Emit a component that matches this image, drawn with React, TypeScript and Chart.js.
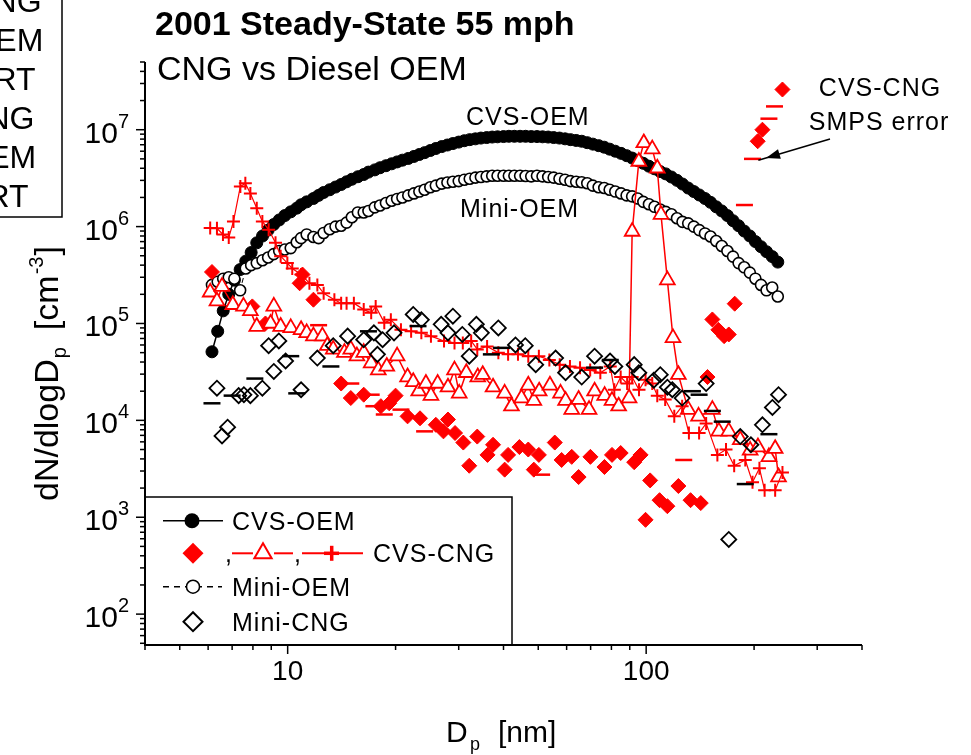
import React, { useEffect, useRef } from 'react';
import { Chart, registerables } from 'chart.js';

Chart.register(...registerables);

const FONT = '"Liberation Sans", Arial, Helvetica, sans-serif';
const fnt = (size: number, bold = false) => `${bold ? 'bold ' : ''}${size}px ${FONT}`;

// ---------- axis settings / tick labels ----------
const X_MIN = 4;
const X_MAX = 400;
const Y_MIN = 48;
const Y_MAX = 5e7;
const xTickLabels = ['10', '100'];
const yTickBase = '10';
const yTickExponents = ['2', '3', '4', '5', '6', '7'];

// ---------- SMPS channel mid-point diameters [nm] (shared by OEM series) ----------
const smpsDiameters = [
  6.15, 6.38, 6.61, 6.85, 7.10, 7.37, 7.64, 7.91, 8.20, 8.51,
  8.82, 9.14, 9.47, 9.82, 10.2, 10.6, 10.9, 11.3, 11.8, 12.2,
  12.6, 13.1, 13.6, 14.1, 14.6, 15.1, 15.7, 16.3, 16.8, 17.5,
  18.1, 18.8, 19.5, 20.2, 20.9, 21.7, 22.5, 23.3, 24.1, 25.0,
  25.9, 26.9, 27.9, 28.9, 30.0, 31.1, 32.2, 33.4, 34.6, 35.9,
  37.2, 38.5, 40.0, 41.4, 42.9, 44.5, 46.1, 47.8, 49.6, 51.4,
  53.3, 55.2, 57.3, 59.4, 61.5, 63.8, 66.1, 68.5, 71.0, 73.7,
  76.4, 79.1, 82.0, 85.1, 88.2, 91.4, 94.7, 98.2, 101.8, 105.5,
  109.4, 113.4, 117.6, 121.9, 126.3, 131.0, 135.8, 140.7, 145.9, 151.2,
  156.8, 162.5, 168.5, 174.7, 181.1, 187.7, 194.6, 201.7, 209.1, 216.7,
  224.7, 232.9,
];

// CVS-OEM dN/dlogDp [cm^-3]
const cvsOem = [
  5.1e4, 8.3e4, 1.35e5, 2.0e5, 2.8e5, 3.6e5, 4.4e5, 5.4e5, 6.8e5, 8.0e5,
  9.2e5, 1.05e6, 1.17e6, 1.3e6, 1.42e6, 1.55e6, 1.68e6, 1.8e6, 1.95e6, 2.1e6,
  2.25e6, 2.4e6, 2.56e6, 2.72e6, 2.9e6, 3.08e6, 3.27e6, 3.45e6, 3.65e6, 3.85e6,
  4.05e6, 4.25e6, 4.45e6, 4.65e6, 4.85e6, 5.05e6, 5.3e6, 5.55e6, 5.8e6, 6.1e6,
  6.4e6, 6.7e6, 6.95e6, 7.2e6, 7.45e6, 7.7e6, 7.9e6, 8.05e6, 8.2e6, 8.3e6,
  8.4e6, 8.45e6, 8.5e6, 8.55e6, 8.55e6, 8.55e6, 8.55e6, 8.5e6, 8.5e6, 8.45e6,
  8.4e6, 8.3e6, 8.2e6, 8.05e6, 7.9e6, 7.75e6, 7.6e6, 7.35e6, 7.1e6, 6.85e6,
  6.6e6, 6.3e6, 6.0e6, 5.7e6, 5.4e6, 5.1e6, 4.8e6, 4.5e6, 4.2e6, 3.95e6,
  3.7e6, 3.5e6, 3.25e6, 3.0e6, 2.75e6, 2.5e6, 2.3e6, 2.12e6, 1.95e6, 1.78e6,
  1.6e6, 1.45e6, 1.3e6, 1.15e6, 1.02e6, 9.0e5, 8.0e5, 7.0e5, 6.2e5, 5.5e5,
  4.9e5, 4.3e5,
];

// Mini-OEM dN/dlogDp [cm^-3]
const miniOem = [
  2.5e5, 2.7e5, 2.9e5, 3.0e5, 2.9e5, 2.2e5, 3.7e5, 4.0e5, 4.2e5, 4.5e5,
  4.8e5, 5.2e5, 5.6e5, 5.8e5, 6.0e5, 6.9e5, 7.6e5, 8.3e5, 7.8e5, 7.6e5,
  8.6e5, 9.4e5, 1.0e6, 1.02e6, 1.1e6, 1.25e6, 1.4e6, 1.4e6, 1.45e6, 1.58e6,
  1.65e6, 1.75e6, 1.85e6, 1.93e6, 2.0e6, 2.1e6, 2.2e6, 2.3e6, 2.4e6, 2.55e6,
  2.65e6, 2.78e6, 2.85e6, 2.9e6, 2.95e6, 3.05e6, 3.12e6, 3.2e6, 3.25e6, 3.3e6,
  3.35e6, 3.35e6, 3.35e6, 3.35e6, 3.35e6, 3.35e6, 3.33e6, 3.3e6, 3.35e6, 3.3e6,
  3.25e6, 3.2e6, 3.12e6, 3.05e6, 2.95e6, 2.9e6, 2.87e6, 2.8e6, 2.65e6, 2.55e6,
  2.5e6, 2.4e6, 2.3e6, 2.2e6, 2.1e6, 2.05e6, 1.95e6, 1.8e6, 1.7e6, 1.6e6,
  1.5e6, 1.42e6, 1.34e6, 1.22e6, 1.12e6, 1.08e6, 1.0e6, 9.2e5, 8.5e5, 7.9e5,
  7.1e5, 6.3e5, 5.6e5, 4.9e5, 4.2e5, 3.8e5, 3.35e5, 2.9e5, 2.5e5, 2.2e5,
  2.35e5, 1.9e5,
];

// CVS-CNG run 1 (filled diamonds)
const cngDiamondDp = [
  6.15, 7.97, 8.67, 10.8, 11.0, 11.8, 14.1, 15.0, 16.3, 18.2,
  19.2, 20.0, 21.6, 23.4, 25.9, 27.2, 28.0, 29.3, 30.9, 32.1,
  33.8, 36.1, 37.4, 40.3, 41.2, 44.3, 46.9, 48.6, 50.2, 55.6,
  58.1, 62.0, 64.8, 69.9, 76.5, 80.3, 84.9, 92.6, 96.5, 99.6,
  102.6, 109, 114.6, 123, 133, 142, 148.3, 153, 159, 165,
  170, 176.6, 204.7, 211, 240,
];
const cngDiamondN = [
  3.4e5, 1.5e5, 1.0e5, 2.6e5, 3.2e5, 1.76e5, 2.4e4, 1.7e4, 1.84e4, 1.4e4,
  1.5e4, 1.8e4, 1.1e4, 1.05e4, 9.0e3, 7.7e3, 1.02e4, 7.4e3, 5.9e3, 3.4e3,
  6.8e3, 4.4e3, 5.6e3, 3.1e3, 4.4e3, 5.3e3, 5.0e3, 3.1e3, 4.4e3, 5.9e3,
  3.9e3, 4.2e3, 2.6e3, 4.2e3, 3.3e3, 4.4e3, 4.6e3, 3.7e3, 4.4e3, 9.4e2,
  2.4e3, 1.5e3, 1.3e3, 2.1e3, 1.5e3, 1.4e3, 2.8e4, 1.1e5, 8.6e4, 7.4e4,
  7.7e4, 1.6e5, 7.6e6, 1.0e7, 2.6e7,
];

// CVS-CNG run 2 (open triangles + line)
const cngTriangleDp = [
  6.08, 6.35, 6.56, 7.03, 7.53, 7.87, 8.2, 8.96, 9.15, 9.56,
  10.2, 10.9, 11.3, 11.8, 12.5, 12.9, 13.4, 14.4, 15.0, 15.6,
  16.3, 17.1, 17.9, 18.9, 20.2, 21.6, 22.4, 23.2, 24.3, 25.1,
  26.2, 28.0, 29.2, 30.1, 31.5, 33.9, 35.0, 37.4, 40.3, 42.1,
  44.9, 46.9, 48.6, 50.3, 53.9, 57.7, 59.6, 62.0, 64.8, 69.3,
  71.8, 76.6, 80.3, 83.8, 89.6, 91.4, 95.4, 98.5, 104, 107.4,
  110, 114.6, 118.8, 123, 131, 140, 153, 159.5, 170, 183,
  195, 205, 220, 229, 234,
];
const cngTriangleN = [
  2.1e5, 1.7e5, 2.4e5, 1.56e5, 1.5e5, 1.35e5, 9.3e4, 1.0e5, 1.5e5, 9.3e4,
  9.0e4, 8.6e4, 8.0e4, 7.4e4, 7.4e4, 5.9e4, 5.4e4, 5.0e4, 5.4e4, 4.6e4,
  5.0e4, 3.9e4, 3.3e4, 3.6e4, 4.6e4, 2.8e4, 2.5e4, 2.0e4, 2.4e4, 1.8e4,
  2.4e4, 2.2e4, 3.3e4, 1.9e4, 3.1e4, 2.8e4, 2.96e4, 2.2e4, 1.9e4, 1.4e4,
  1.7e4, 2.3e4, 1.6e4, 2.0e4, 2.3e4, 1.9e4, 1.6e4, 1.29e4, 1.64e4, 1.29e4,
  2.0e4, 1.8e4, 1.6e4, 1.4e4, 1.7e4, 8.9e5, 4.7e6, 7.3e6, 6.3e6, 4.0e6,
  1.33e6, 2.8e5, 7.1e4, 2.96e4, 1.29e4, 1.1e4, 1.29e4, 7.7e3, 7.7e3, 6.3e3,
  4.9e3, 5.3e3, 4.2e3, 5.1e3, 2.6e3,
];

// CVS-CNG run 3 (plus + line)
const cngPlusDp = [
  6.08, 6.35, 6.6, 6.85, 7.06, 7.38, 7.62, 7.87, 8.2, 8.5,
  8.85, 9.25, 9.56, 9.98, 10.3, 10.9, 11.5, 12.1, 12.6, 13.5,
  14.1, 14.6, 15.3, 16.3, 17.1, 17.6, 18.6, 19.4, 20.7, 22.1,
  23.6, 25.1, 27.3, 29.2, 30.8, 32.5, 33.8, 36.0, 38.7, 41.2,
  43.9, 46.9, 50.2, 53.7, 57.4, 61.3, 65.4, 69.8, 74.5, 79.4,
  81.5, 84.9, 88.5, 91.4, 95.5, 99.6, 104, 107.4, 113, 119.8,
  126, 131.6, 140.5, 147, 158, 167, 176, 189, 198, 207,
  214, 229, 240,
];
const cngPlusN = [
  9.7e5, 9.6e5, 8.3e5, 7.7e5, 1.13e6, 2.6e6, 2.8e6, 2.2e6, 1.55e6, 1.13e6,
  9.3e5, 6.8e5, 4.95e5, 4.2e5, 3.7e5, 3.2e5, 2.6e5, 2.5e5, 2.05e5, 1.76e5,
  1.62e5, 1.62e5, 1.62e5, 1.39e5, 1.29e5, 1.5e5, 1.02e5, 1.09e5, 8.6e4, 8.3e4,
  8.0e4, 7.4e4, 6.6e4, 6.3e4, 6.3e4, 6.6e4, 5.4e4, 5.8e4, 5.0e4, 4.8e4,
  4.8e4, 4.6e4, 4.6e4, 4.2e4, 3.76e4, 3.6e4, 3.5e4, 3.3e4, 3.1e4, 3.6e4,
  2.07e4, 2.8e4, 2.4e4, 2.8e4, 2.07e4, 2.63e4, 2.4e4, 1.8e4, 1.64e4, 1.1e4,
  1.4e4, 7.4e3, 7.4e3, 9.3e3, 4.4e3, 5.0e3, 3.4e3, 3.9e3, 2.3e3, 3.2e3,
  1.9e3, 1.9e3, 2.9e3,
];

// Mini-CNG (open diamonds)
const miniCngDp = [
  6.35, 6.56, 6.8, 7.3, 7.55, 7.87, 8.5, 8.85, 9.15, 9.45,
  9.87, 10.9, 12.1, 13.4, 14.7, 16.3, 17.4, 17.8, 18.4, 19.8,
  22.4, 23.6, 26.8, 28.0, 28.9, 30.7, 32.1, 33.6, 34.7, 38.7,
  43.2, 46.0, 49.2, 55.9, 59.6, 66.1, 71.8, 79.3, 81.8, 92.6,
  95.4, 105, 109.5, 114.6, 118.3, 126, 147, 170, 183, 196,
  211, 225, 234,
];
const miniCngN = [
  2.15e4, 6.9e3, 8.5e3, 1.8e4, 1.84e4, 1.8e4, 2.15e4, 5.9e4, 3.2e4, 6.6e4,
  4.1e4, 2.07e4, 4.4e4, 5.9e4, 7.4e4, 6.8e4, 8.0e4, 4.8e4, 6.8e4, 8.0e4,
  1.24e5, 1.09e5, 9.8e4, 8.0e4, 1.19e5, 7.7e4, 4.6e4, 9.8e4, 8.0e4, 9.0e4,
  6.0e4, 5.9e4, 3.76e4, 4.4e4, 3.1e4, 2.8e4, 4.6e4, 4.1e4, 3.6e4, 3.76e4,
  3.1e4, 2.6e4, 2.96e4, 2.2e4, 2.07e4, 1.7e4, 2.4e4, 5.9e2, 6.8e3, 5.6e3,
  9.0e3, 1.36e4, 1.84e4,
];

// dash markers (black: Mini, red: CVS-CNG)
const blackDashDp = [6.15, 7.0, 8.1, 10.2, 10.6, 13.2, 16.8, 23.1, 37, 39.5, 71.8, 79.4, 134.6, 140.5, 153, 163, 189, 220];
const blackDashN = [1.5e4, 1.8e4, 2.7e4, 4.6e4, 1.9e4, 3.6e4, 8.3e4, 9.4e4, 4.8e4, 5.6e4, 3.5e4, 4.2e4, 2.0e4, 1.84e4, 1.25e4, 9.7e3, 2.2e3, 7.2e3];
const redDashDp = [12.2, 15.0, 17.1, 17.4, 18.6, 20.7, 24.1, 51.1, 127.3, 188, 198, 220, 228];
const redDashN = [9.6e4, 2.4e4, 1.84e4, 1.4e4, 1.15e4, 1.29e4, 7.7e3, 2.75e3, 3.9e3, 1.67e6, 5.0e6, 1.3e7, 1.74e7];

// legend / annotation texts
const titleText = '2001 Steady-State 55 mph';
const subtitleText = 'CNG vs Diesel OEM';
const cutLegendTexts = ['CVS-CNG', 'CVS-OEM', 'CVS-CRT', 'Mini-CNG', 'Mini-OEM', 'Mini-CRT'];

const RED = '#ff0000';
const BLACK = '#000000';

const toPoints = (xs: number[], ys: number[]) => xs.map((x, i) => ({ x, y: ys[i] }));

function pathDiamond(ctx: CanvasRenderingContext2D, x: number, y: number, r: number) {
  ctx.beginPath();
  ctx.moveTo(x - r, y);
  ctx.lineTo(x, y - r);
  ctx.lineTo(x + r, y);
  ctx.lineTo(x, y + r);
  ctx.closePath();
}
function pathTriangle(ctx: CanvasRenderingContext2D, x: number, y: number, r: number) {
  ctx.beginPath();
  ctx.moveTo(x, y - r);
  ctx.lineTo(x + 0.866 * r, y + 0.5 * r);
  ctx.lineTo(x - 0.866 * r, y + 0.5 * r);
  ctx.closePath();
}
function line(ctx: CanvasRenderingContext2D, x1: number, y1: number, x2: number, y2: number) {
  ctx.beginPath();
  ctx.moveTo(x1, y1);
  ctx.lineTo(x2, y2);
  ctx.stroke();
}
function spacedText(ctx: CanvasRenderingContext2D, text: string, x: number, y: number, spacing: number) {
  (ctx as any).letterSpacing = `${spacing}px`;
  ctx.fillText(text, x, y);
  (ctx as any).letterSpacing = '0px';
}

const overlayPlugin = {
  id: 'overlay',
  beforeDraw(chart: any) {
    const ctx = chart.ctx as CanvasRenderingContext2D;
    ctx.save();
    ctx.fillStyle = '#ffffff';
    ctx.fillRect(0, 0, chart.width, chart.height);
    ctx.restore();
  },
  afterDraw(chart: any) {
    const ctx = chart.ctx as CanvasRenderingContext2D;
    const xs = chart.scales.x;
    const ys = chart.scales.y;
    const { left, right, top, bottom } = chart.chartArea;
    ctx.save();
    ctx.fillStyle = BLACK;
    ctx.strokeStyle = BLACK;

    // ----- legend box -----
    const lgTop = 497;
    const lgRight = 512;
    ctx.fillStyle = '#ffffff';
    ctx.fillRect(left, lgTop, lgRight - left, bottom - lgTop);
    ctx.lineWidth = 1.5;
    ctx.strokeRect(left, lgTop, lgRight - left, bottom - lgTop);
    ctx.fillStyle = BLACK;

    // ----- axes -----
    ctx.lineWidth = 2;
    ctx.beginPath();
    ctx.moveTo(left, top);
    ctx.lineTo(left, bottom);
    ctx.lineTo(right, bottom);
    ctx.stroke();

    ctx.lineWidth = 1.5;
    for (let e = 1; e <= 7; e++) {
      for (let m = 1; m <= 9; m++) {
        const v = m * Math.pow(10, e);
        if (v < Y_MIN * 0.999 || v > Y_MAX * 1.001) continue;
        const y = ys.getPixelForValue(v);
        line(ctx, left - (m === 1 ? 9 : 5), y, left, y);
      }
    }
    for (let e = 0; e <= 2; e++) {
      for (let m = 1; m <= 9; m++) {
        const v = m * Math.pow(10, e);
        if (v < X_MIN * 0.999 || v > X_MAX * 1.001) continue;
        const x = xs.getPixelForValue(v);
        line(ctx, x, bottom, x, bottom + (m === 1 ? 9 : 5));
      }
    }

    // y tick labels 10^n
    yTickExponents.forEach((ex) => {
      const y = ys.getPixelForValue(Math.pow(10, Number(ex)));
      ctx.font = fnt(20);
      const sw = ctx.measureText(ex).width;
      ctx.font = fnt(30);
      const bw = ctx.measureText(yTickBase).width;
      const xr = 129;
      ctx.textAlign = 'left';
      ctx.textBaseline = 'alphabetic';
      ctx.fillText(yTickBase, xr - sw - bw, y + 13);
      ctx.font = fnt(20);
      ctx.fillText(ex, xr - sw, y - 2);
    });

    // x tick labels
    ctx.font = fnt(28);
    ctx.textAlign = 'center';
    xTickLabels.forEach((t) => {
      const x = xs.getPixelForValue(Number(t));
      ctx.fillText(t, x, 680);
    });

    // x axis title: D_p [nm]
    ctx.textAlign = 'left';
    ctx.font = fnt(30);
    ctx.fillText('D', 446, 742);
    ctx.font = fnt(18);
    ctx.fillText('p', 470, 750);
    ctx.font = fnt(30);
    ctx.fillText('[nm]', 498, 742);

    // y axis title: dN/dlogD_p [cm^-3]
    ctx.save();
    ctx.translate(58, 501);
    ctx.rotate(-Math.PI / 2);
    let cx = 0;
    ctx.font = fnt(34);
    ctx.fillText('dN/dlogD', cx, 0);
    cx += ctx.measureText('dN/dlogD').width + 1;
    ctx.font = fnt(20);
    ctx.fillText('p', cx, 8);
    cx += ctx.measureText('p').width + 17;
    ctx.font = fnt(34);
    ctx.fillText('[cm', cx, 0);
    cx += ctx.measureText('[cm').width + 1;
    ctx.font = fnt(20);
    ctx.fillText('-3', cx, -15);
    cx += ctx.measureText('-3').width + 1;
    ctx.font = fnt(34);
    ctx.fillText(']', cx, 0);
    ctx.restore();

    // titles
    ctx.font = fnt(34, true);
    ctx.fillText(titleText, 155, 35);
    ctx.font = fnt(34);
    ctx.fillText(subtitleText, 157, 80);

    // cut-off legend box at the top-left
    ctx.lineWidth = 1.5;
    ctx.strokeRect(-60, -10, 122, 227);
    ctx.font = fnt(32);
    cutLegendTexts.forEach((t, i) => {
      ctx.fillText(t, -106, 12 + i * 39);
    });

    // in-plot annotations
    ctx.font = fnt(25);
    spacedText(ctx, 'CVS-OEM', 466, 125, 1);
    spacedText(ctx, 'Mini-OEM', 460, 217, 1);
    ctx.textAlign = 'center';
    spacedText(ctx, 'CVS-CNG', 880, 96, 1);
    spacedText(ctx, 'SMPS error', 879, 130, 1);
    ctx.textAlign = 'left';

    // arrow
    ctx.lineWidth = 1.5;
    const ax1 = 830, ay1 = 139, ax2 = 766, ay2 = 158;
    const ang = Math.atan2(ay2 - ay1, ax2 - ax1);
    line(ctx, ax1, ay1, ax2 + 8 * Math.cos(ang), ay2 + 8 * Math.sin(ang));
    ctx.beginPath();
    ctx.moveTo(ax2, ay2);
    ctx.lineTo(ax2 - 14 * Math.cos(ang) + 5 * Math.sin(ang), ay2 - 14 * Math.sin(ang) - 5 * Math.cos(ang));
    ctx.lineTo(ax2 - 14 * Math.cos(ang) - 5 * Math.sin(ang), ay2 - 14 * Math.sin(ang) + 5 * Math.cos(ang));
    ctx.closePath();
    ctx.fill();

    // ----- legend content -----
    const r1 = 520.7, r2 = 553.3, r3 = 586.7, r4 = 621.7;
    // row 1
    ctx.strokeStyle = BLACK;
    ctx.lineWidth = 1.5;
    line(ctx, 163, r1, 223, r1);
    ctx.beginPath();
    ctx.arc(192, r1, 7.5, 0, Math.PI * 2);
    ctx.fill();
    ctx.font = fnt(25);
    spacedText(ctx, 'CVS-OEM', 232, r1 + 9, 1);
    // row 2
    ctx.fillStyle = RED;
    pathDiamond(ctx, 193, r2, 10.5);
    ctx.fill();
    ctx.fillStyle = BLACK;
    ctx.fillText(',', 225, r2 + 9);
    ctx.strokeStyle = RED;
    ctx.lineWidth = 2;
    line(ctx, 232, r2, 253, r2);
    line(ctx, 274, r2, 293, r2);
    pathTriangle(ctx, 263, r2, 10);
    ctx.stroke();
    ctx.fillText(',', 294, r2 + 9);
    line(ctx, 302, r2, 363, r2);
    ctx.lineWidth = 3.5;
    line(ctx, 331.7, r2 - 7.5, 331.7, r2 + 7.5);
    line(ctx, 324, r2, 339, r2);
    ctx.fillStyle = BLACK;
    spacedText(ctx, 'CVS-CNG', 373, r2 + 9, 1);
    // row 3
    ctx.strokeStyle = BLACK;
    ctx.lineWidth = 1.5;
    ctx.setLineDash([6, 5]);
    line(ctx, 163, r3, 222, r3);
    ctx.setLineDash([]);
    ctx.fillStyle = '#ffffff';
    ctx.beginPath();
    ctx.arc(193, r3, 6.5, 0, Math.PI * 2);
    ctx.fill();
    ctx.stroke();
    ctx.fillStyle = BLACK;
    spacedText(ctx, 'Mini-OEM', 232, r3 + 9, 1);
    // row 4
    ctx.lineWidth = 2;
    pathDiamond(ctx, 193, r4, 9.5);
    ctx.stroke();
    spacedText(ctx, 'Mini-CNG', 232, r4 + 9, 1);

    ctx.restore();
  },
};

export default function App() {
  const ref = useRef<HTMLCanvasElement>(null);
  useEffect(() => {
    const canvas = ref.current;
    if (!canvas) return;
    const datasets: any[] = [
      {
        label: 'Mini dash',
        data: toPoints(blackDashDp, blackDashN),
        showLine: false,
        pointStyle: 'line',
        pointRadius: 8.5,
        pointBorderColor: BLACK,
        pointBorderWidth: 2.5,
      },
      {
        label: 'CVS-CNG dash',
        data: toPoints(redDashDp, redDashN),
        showLine: false,
        pointStyle: 'line',
        pointRadius: 8.5,
        pointBorderColor: RED,
        pointBorderWidth: 2.5,
      },
      {
        label: 'Mini-CNG',
        data: toPoints(miniCngDp, miniCngN),
        showLine: false,
        pointStyle: 'rectRot',
        pointRadius: 7.5,
        pointBackgroundColor: 'rgba(0,0,0,0)',
        pointBorderColor: BLACK,
        pointBorderWidth: 1.8,
      },
      {
        label: 'CVS-CNG +',
        data: toPoints(cngPlusDp, cngPlusN),
        showLine: true,
        borderColor: RED,
        borderWidth: 1.2,
        pointStyle: 'cross',
        pointRadius: 6.5,
        pointBorderColor: RED,
        pointBorderWidth: 2,
      },
      {
        label: 'CVS-CNG tri',
        data: toPoints(cngTriangleDp, cngTriangleN),
        showLine: true,
        borderColor: RED,
        borderWidth: 1.5,
        pointStyle: 'triangle',
        pointRadius: 8.5,
        pointBackgroundColor: '#ffffff',
        pointBorderColor: RED,
        pointBorderWidth: 1.8,
      },
      {
        label: 'CVS-CNG diamond',
        data: toPoints(cngDiamondDp, cngDiamondN),
        showLine: false,
        pointStyle: 'rectRot',
        pointRadius: 7.5,
        pointBackgroundColor: RED,
        pointBorderColor: RED,
        pointBorderWidth: 1,
      },
      {
        label: 'Mini-OEM',
        data: toPoints(smpsDiameters, miniOem),
        showLine: true,
        borderColor: BLACK,
        borderWidth: 1,
        borderDash: [5, 4],
        pointStyle: 'circle',
        pointRadius: 5.5,
        pointBackgroundColor: '#ffffff',
        pointBorderColor: BLACK,
        pointBorderWidth: 1.6,
      },
      {
        label: 'CVS-OEM',
        data: toPoints(smpsDiameters, cvsOem),
        showLine: true,
        borderColor: BLACK,
        borderWidth: 1.5,
        pointStyle: 'circle',
        pointRadius: 6,
        pointBackgroundColor: BLACK,
        pointBorderColor: BLACK,
        pointBorderWidth: 1,
      },
    ];
    const chart = new Chart(canvas, {
      type: 'scatter',
      data: { datasets },
      options: {
        animation: false,
        responsive: false,
        maintainAspectRatio: false,
        devicePixelRatio: 1,
        events: [],
        layout: { padding: { left: 145, right: 109, top: 62, bottom: 110 } },
        plugins: { legend: { display: false }, tooltip: { enabled: false }, title: { display: false } },
        scales: {
          x: { type: 'logarithmic', min: X_MIN, max: X_MAX, display: false },
          y: { type: 'logarithmic', min: Y_MIN, max: Y_MAX, display: false },
        },
        elements: { line: { tension: 0 } },
      } as any,
      plugins: [overlayPlugin],
    });
    return () => chart.destroy();
  }, []);
  return (
    <div style={{ position: 'fixed', left: 0, top: 0, width: 971, height: 755, overflow: 'hidden', background: '#fff' }}>
      <canvas ref={ref} width={971} height={755} style={{ display: 'block', width: 971, height: 755 }} />
    </div>
  );
}
